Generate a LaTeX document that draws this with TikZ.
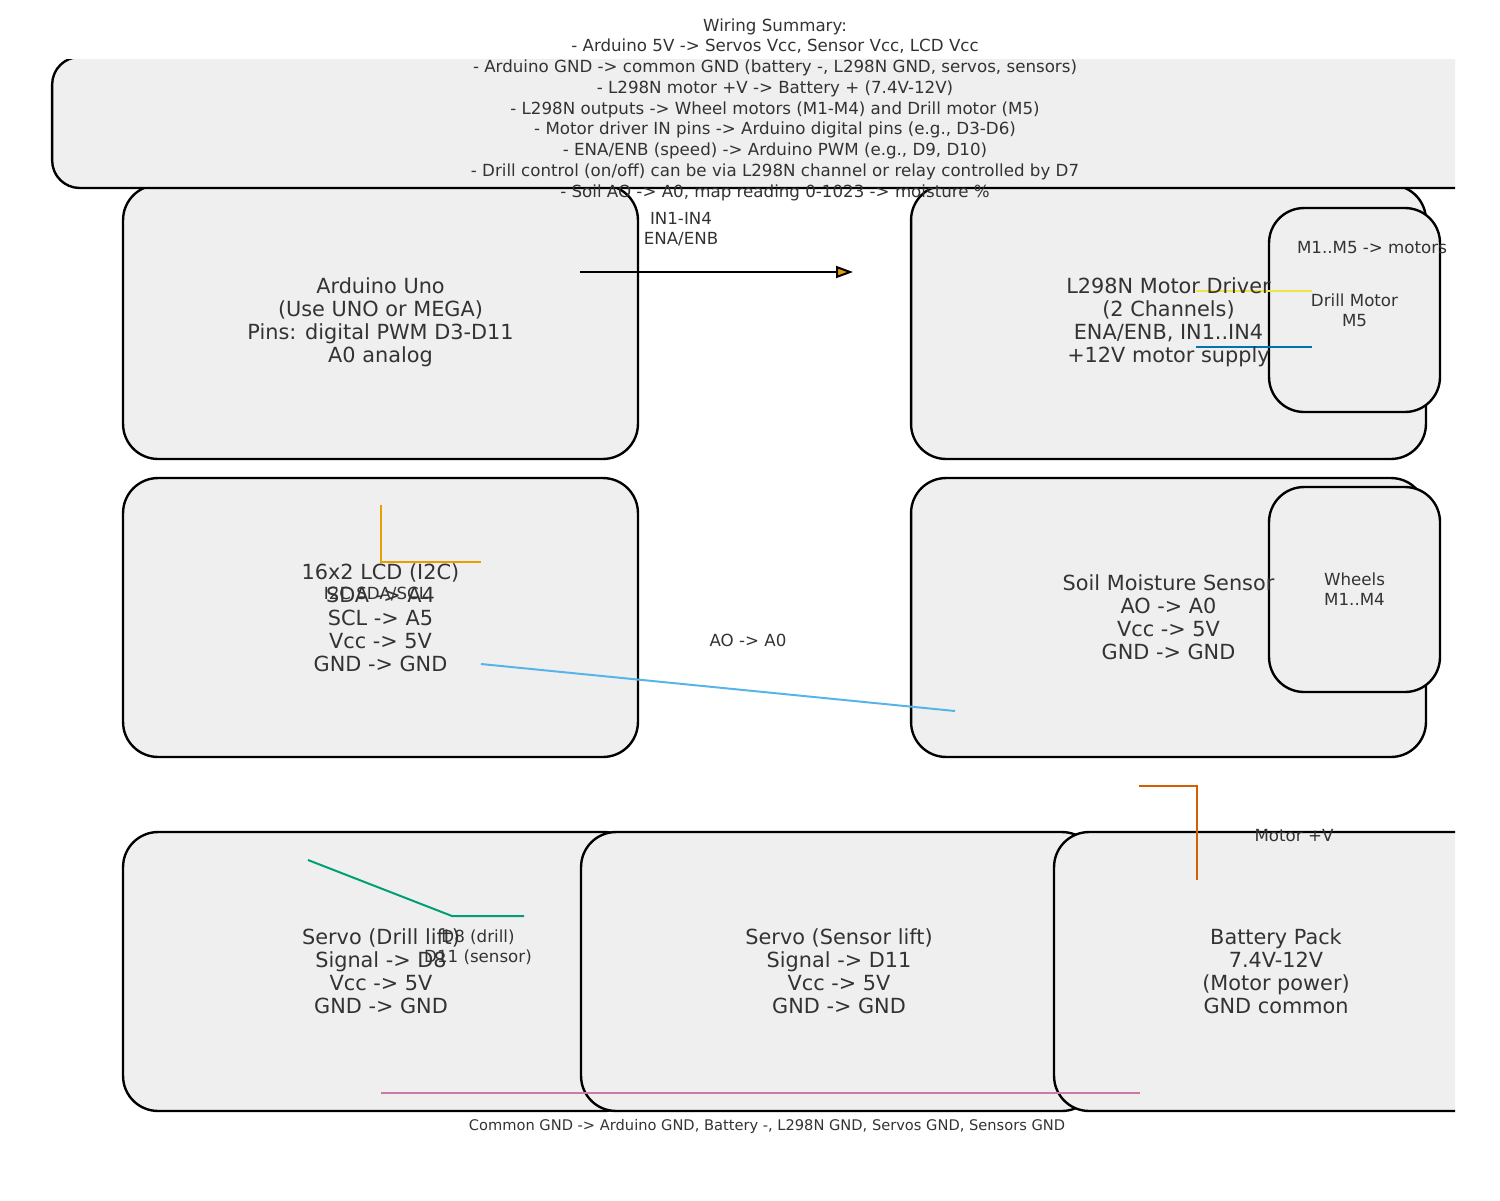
\documentclass[tikz,border=0pt]{standalone}
\usepackage{fontspec}
\setmainfont{DejaVu Sans}
\usetikzlibrary{arrows.meta}
\definecolor{boxfill}{RGB}{239,239,239}
\definecolor{txt}{RGB}{51,51,51}
\definecolor{cyellow}{HTML}{F0E442}
\definecolor{cblue}{HTML}{0072B2}
\definecolor{corange}{HTML}{E69F00}
\definecolor{csky}{HTML}{56B4E9}
\definecolor{cgreen}{HTML}{009E73}
\definecolor{cverm}{HTML}{D55E00}
\definecolor{cpurple}{HTML}{CC79A7}
\begin{document}
\begin{tikzpicture}[x=0.02cm,y=-0.02cm,
  box/.style={draw=black, line width=1.35pt, fill=boxfill, rounded corners=0.7cm, inner sep=0pt},
  boxtxt/.style={text=txt, align=center, inner sep=0pt, font=\fontsize{11.85}{13.1}\selectfont},
  lbl/.style={text=txt, align=center, inner sep=0pt, font=\fontsize{9.49}{11.39}\selectfont},
  smalllbl/.style={text=txt, align=center, inner sep=0pt, font=\fontsize{8.33}{10}\selectfont},
  wire/.style={line width=1.13pt}]
\useasboundingbox (0,0) rectangle (1500,1200);
\begin{scope}
\clip (0,59) rectangle (1455,1200);
% boxes
\node[box, minimum width=10.3cm, minimum height=5.48cm] (ard) at (380.5,322) {};
\node[box, minimum width=10.3cm, minimum height=5.48cm] (drv) at (1168.5,322) {};
\node[box, minimum width=3.42cm, minimum height=4.08cm] (drill) at (1354.5,310) {};
\node[box, minimum width=10.3cm, minimum height=5.58cm] (lcd) at (380.5,617.5) {};
\node[box, minimum width=10.3cm, minimum height=5.58cm] (soil) at (1168.5,617.5) {};
\node[box, minimum width=3.42cm, minimum height=4.1cm] (wheels) at (1354.5,589.5) {};
\node[box, minimum width=10.32cm, minimum height=5.58cm] (srvd) at (381,971.5) {};
\node[box, minimum width=10.32cm, minimum height=5.58cm] (srvs) at (839,971.5) {};
\node[box, minimum width=8.88cm, minimum height=5.58cm] (bat) at (1276,971.5) {};
\node[box, rounded corners=0.55cm, minimum width=28.92cm, minimum height=2.62cm] (sum) at (775,122.5) {};
% wires
\coordinate (a1) at (580,272); \coordinate (a2) at (853,272);
\draw[wire, -{Triangle[length=0.34cm,width=0.24cm,fill=corange]}] (a1) -- (a2);
\coordinate (y1) at (1196,291); \coordinate (y2) at (1312,291);
\draw[wire, cyellow] (y1) -- (y2);
\coordinate (b1) at (1196,347); \coordinate (b2) at (1312,347);
\draw[wire, cblue] (b1) -- (b2);
\coordinate (o1) at (381,505); \coordinate (o2) at (381,562); \coordinate (o3) at (481,562);
\draw[wire, corange] (o1) -- (o2) -- (o3);
\coordinate (s1) at (481,664); \coordinate (s2) at (955,711);
\draw[wire, csky] (s1) -- (s2);
\coordinate (g1) at (308,860); \coordinate (g2) at (452,916); \coordinate (g3) at (524,916);
\draw[wire, cgreen] (g1) -- (g2) -- (g3);
\coordinate (v1) at (1139,786); \coordinate (v2) at (1197,786); \coordinate (v3) at (1197,880);
\draw[wire, cverm] (v1) -- (v2) -- (v3);
\coordinate (p1) at (381,1093); \coordinate (p2) at (1140,1093);
\draw[wire, cpurple] (p1) -- (p2);
\end{scope}
% box texts
\node[boxtxt] (ardt) at (ard.center) {Arduino Uno\\(Use UNO or MEGA)\\Pins: digital PWM D3-D11\\A0 analog};
\node[boxtxt] (drvt) at (drv.center) {L298N Motor Driver\\(2 Channels)\\ENA/ENB, IN1..IN4\\+12V motor supply};
\node[boxtxt] (lcdt) at (lcd.center) {16x2 LCD (I2C)\\SDA -> A4\\SCL -> A5\\Vcc -> 5V\\GND -> GND};
\node[boxtxt] (soilt) at (soil.center) {Soil Moisture Sensor\\AO -> A0\\Vcc -> 5V\\GND -> GND};
\node[boxtxt] (srvdt) at (srvd.center) {Servo (Drill lift)\\Signal -> D8\\Vcc -> 5V\\GND -> GND};
\node[boxtxt] (srvst) at (srvs.center) {Servo (Sensor lift)\\Signal -> D11\\Vcc -> 5V\\GND -> GND};
\node[boxtxt] (batt) at (bat.center) {Battery Pack\\7.4V-12V\\(Motor power)\\GND common};
\node[lbl] (drillt) at (drill.center) {Drill Motor\\M5};
\node[lbl] (wheelst) at (wheels.center) {Wheels\\M1..M4};
% summary text
\node[lbl, font=\fontsize{9.49}{11.8}\selectfont] (sumt) at (775,109.5) {Wiring Summary:\\- Arduino 5V -> Servos Vcc, Sensor Vcc, LCD Vcc\\- Arduino GND -> common GND (battery -, L298N GND, servos, sensors)\\- L298N motor +V -> Battery + (7.4V-12V)\\- L298N outputs -> Wheel motors (M1-M4) and Drill motor (M5)\\- Motor driver IN pins -> Arduino digital pins (e.g., D3-D6)\\- ENA/ENB (speed) -> Arduino PWM (e.g., D9, D10)\\- Drill control (on/off) can be via L298N channel or relay controlled by D7\\- Soil AO -> A0, map reading 0-1023 -> moisture \%};
% wire labels
\node[lbl] (inl) at (681,229) {IN1-IN4\\ENA/ENB};
\node[lbl] (motl) at (1372,248) {M1..M5 -> motors};
\node[lbl] (i2cl) at (376,594) {I2C SDA/SCL};
\node[lbl] (aol) at (748,640) {AO -> A0};
\node[lbl] (dl) at (478,947) {D8 (drill)\\D11 (sensor)};
\node[lbl] (mvl) at (1294,836) {Motor +V};
\node[smalllbl] (gndl) at (767,1126) {Common GND -> Arduino GND, Battery -, L298N GND, Servos GND, Sensors GND};
\end{tikzpicture}
\end{document}
